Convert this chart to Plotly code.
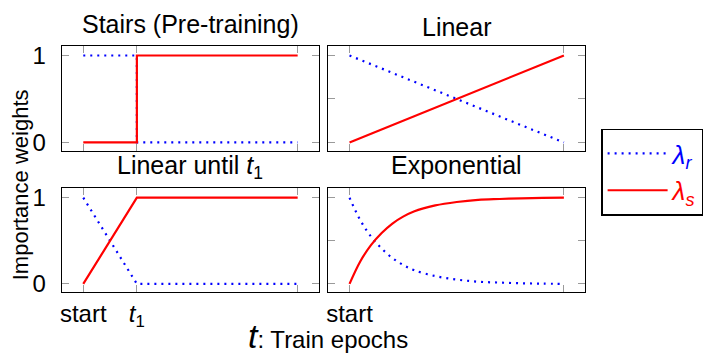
import plotly.graph_objects as go

# ---- data -------------------------------------------------------------
# training progress on a normalised axis: start = 0, t1 = 0.25, end = 1
t_start, t_one, t_end = 0.0, 0.25, 1.0

stairs_x = [t_start, t_one, t_one, t_end]
stairs_r = [1, 1, 0, 0]
stairs_s = [0, 0, 1, 1]

linear_x = [t_start, t_end]
linear_r = [1, 0]
linear_s = [0, 1]

until_x = [t_start, t_one, t_end]
until_r = [1, 0, 0]
until_s = [0, 1, 1]

exp_x = [0, 0.05, 0.1, 0.15, 0.2, 0.25, 0.3, 0.4, 0.5, 0.6, 0.7, 0.8, 0.9, 1.0]
exp_s = [0, 0.26, 0.45, 0.59, 0.70, 0.78, 0.84, 0.91, 0.95, 0.975, 0.985, 0.993, 0.997, 1.0]
exp_r = [1, 0.74, 0.55, 0.41, 0.30, 0.22, 0.16, 0.09, 0.05, 0.025, 0.015, 0.007, 0.003, 0.0]

panel_titles = ["Stairs (Pre-training)", "Linear", "Linear until <i>t</i><sub>1</sub>", "Exponential"]
x_tick_text_bl = ["start", "<i>t</i><sub>1</sub>", ""]
x_tick_text_br = ["start", ""]
y_tick_text = ["0", "1"]

# ---- layout helpers ----------------------------------------------------
W, H = 710, 355
FONT = "Liberation Sans, Arial, Helvetica, sans-serif"
BLUE = "#0000ff"
RED = "#ff0000"


def px(x):
    return x / W


def py(y):
    return 1 - y / H


# panel boxes in pixels: (left, right, top, bottom)
boxes = [(60, 318, 43, 151), (327, 585, 43, 151), (60, 318, 189, 296), (327, 585, 189, 296)]

fig = go.Figure()

series = [
    (stairs_x, stairs_r, stairs_s, "linear"),
    (linear_x, linear_r, linear_s, "linear"),
    (until_x, until_r, until_s, "linear"),
    (exp_x, exp_r, exp_s, "spline"),
]

for i, (xs, r, s, shape) in enumerate(series):
    k = "" if i == 0 else str(i + 1)
    fig.add_trace(go.Scatter(
        x=xs, y=r, mode="lines", xaxis="x" + k, yaxis="y" + k,
        line=dict(color=BLUE, width=2.2, dash="2px,5px", shape=shape),
        name="<span style='color:#0000ff'><i>λ<sub>r</sub></i></span>",
        legendgroup="r", showlegend=(i == 0), hoverinfo="skip",
    ))
    fig.add_trace(go.Scatter(
        x=xs, y=s, mode="lines", xaxis="x" + k, yaxis="y" + k,
        line=dict(color=RED, width=2.2, shape=shape),
        name="<span style='color:#ff0000'><i>λ<sub>s</sub></i></span>",
        legendgroup="s", showlegend=(i == 0), hoverinfo="skip",
    ))

axis_common = dict(
    showgrid=False, zeroline=False, showline=True, linecolor="black", linewidth=1.3,
    mirror="allticks", ticks="inside", ticklen=7, tickwidth=1.3, tickcolor="#9a9a9a",
    tickfont=dict(family=FONT, size=24, color="black"), fixedrange=True,
)

layout_axes = {}
for i, (l, r, t, b) in enumerate(boxes):
    k = "" if i == 0 else str(i + 1)
    left_col = i in (0, 2)
    bottom_row = i in (2, 3)
    xa = dict(axis_common, domain=[px(l), px(r)], range=[-0.1, 1.1], anchor="y" + k)
    ya = dict(axis_common, domain=[py(b), py(t)], range=[-0.1, 1.11], anchor="x" + k)
    if left_col:
        xa.update(tickvals=[t_start, t_one, t_end])
        ya.update(tickvals=[0, 1], ticktext=y_tick_text, ticklabelstandoff=10)
    else:
        xa.update(tickvals=[t_start, t_end])
        ya.update(tickvals=[0, 0.5, 1], showticklabels=False)
    if bottom_row:
        xa.update(ticktext=x_tick_text_bl if left_col else x_tick_text_br, ticklabelstandoff=0)
    else:
        xa.update(showticklabels=False)
    layout_axes["xaxis" + k] = xa
    layout_axes["yaxis" + k] = ya

fig.update_layout(**layout_axes)

# panel titles
title_pos = [(189, 21), (456, 24), (189, 167), (456, 165)]
for text, (cx, cy) in zip(panel_titles, title_pos):
    fig.add_annotation(
        x=px(cx), y=py(cy), xref="paper", yref="paper", text=text, showarrow=False,
        xanchor="center", yanchor="middle", font=dict(family=FONT, size=25, color="black"),
    )

# shared axis titles
fig.add_annotation(
    x=px(18), y=py(185), xref="paper", yref="paper", text="Importance weights",
    textangle=-90, showarrow=False, xanchor="center", yanchor="middle",
    font=dict(family=FONT, size=22, color="black"),
)
fig.add_annotation(
    x=px(327), y=py(341), xref="paper", yref="paper",
    text="<span style='font-size:34px'><i>t</i></span>: Train epochs",
    showarrow=False, xanchor="center", yanchor="middle",
    font=dict(family=FONT, size=24, color="black"),
)

fig.update_layout(
    width=W, height=H, margin=dict(l=0, r=0, t=0, b=0),
    paper_bgcolor="white", plot_bgcolor="white",
    font=dict(family=FONT, size=24, color="black"),
    showlegend=True,
    legend=dict(
        x=px(601), y=py(128), xanchor="left", yanchor="top",
        bordercolor="black", borderwidth=1.3, bgcolor="white",
        font=dict(family=FONT, size=26), itemwidth=60, tracegroupgap=0,
    ),
)

fig.write_html("out.html")
